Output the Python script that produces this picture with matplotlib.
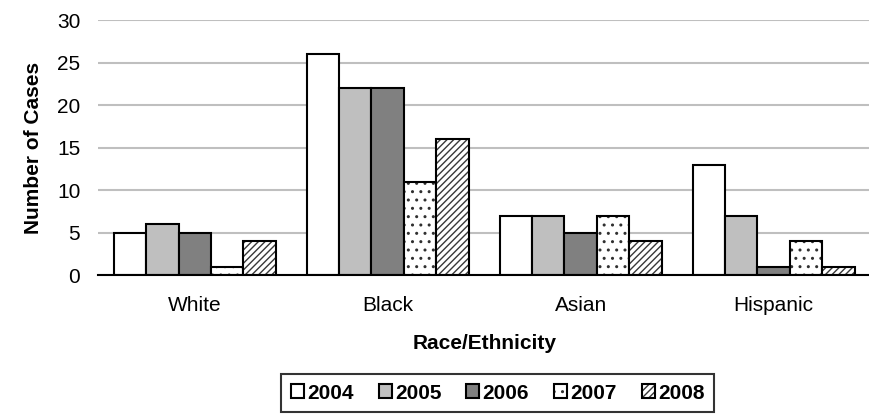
import matplotlib.pyplot as plt
import matplotlib.colors as mcolors
import numpy as np

plt.rcParams['font.family'] = ['Liberation Sans', 'DejaVu Sans']
plt.rcParams['hatch.linewidth'] = 1.0

groups = ['White', 'Black', 'Asian', 'Hispanic']
years = ['2004', '2005', '2006', '2007', '2008']
v2004 = [5, 26, 7, 13]
v2005 = [6, 22, 7, 7]
v2006 = [5, 22, 5, 1]
v2007 = [1, 11, 7, 4]
v2008 = [4, 16, 4, 1]
series = [v2004, v2005, v2006, v2007, v2008]

colors = ['white', '#bfbfbf', '#808080', 'white', 'white']
hatches = [None, None, None, '..', '/////']
hcolors = ['black', 'black', 'black', '#303030', '#383838']

fig = plt.figure(figsize=(8.7, 4.17), dpi=100)
ax = fig.add_axes([0.113, 0.34, 0.887, 0.612])

x = np.arange(len(groups))
w = 0.168
for i, vals in enumerate(series):
    bars = ax.bar(x + (i - 2) * w, vals, w, color=colors[i], edgecolor='black',
                  linewidth=1.5, hatch=hatches[i], label=years[i], zorder=3)
    if hatches[i]:
        for b in bars:
            b._hatch_color = mcolors.to_rgba(hcolors[i])

ax.set_xlim(-0.5, 3.5)
ax.set_ylim(0, 30)
ax.set_yticks(range(0, 31, 5))
ax.yaxis.grid(True, color='#bfbfbf', linewidth=1.5, zorder=0)
ax.set_xticks(x)
ax.set_xticklabels(groups)
ax.tick_params(axis='both', length=0, labelsize=15)
ax.tick_params(axis='x', pad=15)
ax.tick_params(axis='y', pad=13)
for s in ['top', 'right', 'left']:
    ax.spines[s].set_visible(False)
ax.spines['bottom'].set_linewidth(1.5)
ax.spines['bottom'].set_zorder(4)

ax.set_xlabel('Race/Ethnicity', fontsize=15, fontweight='bold', labelpad=14)
ax.set_ylabel('Number of Cases', fontsize=15, fontweight='bold', labelpad=10)

leg = fig.legend(loc='center', bbox_to_anchor=(0.572, 0.0575), ncol=5,
                 prop={'weight': 'bold', 'size': 15}, frameon=True,
                 fancybox=False, edgecolor='black', handlelength=0.63,
                 handleheight=0.63, handletextpad=0.15, columnspacing=1.2,
                 borderpad=0.45)
leg.get_frame().set_linewidth(1.5)

fig.savefig('out.png', dpi=100)
